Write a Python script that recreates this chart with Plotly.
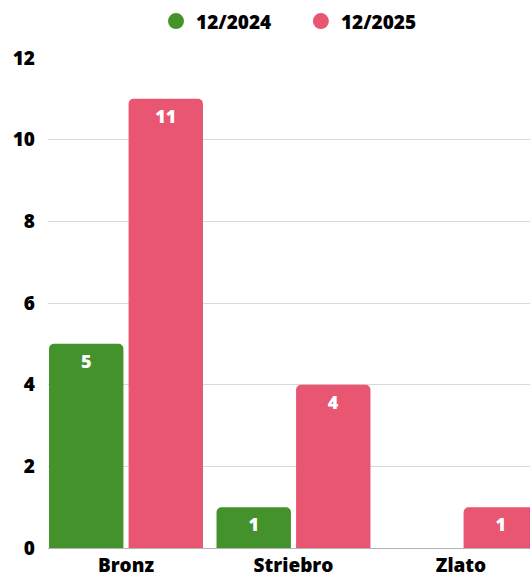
import plotly.graph_objects as go

categories = ["Bronz", "Striebro", "Zlato"]
series_names = ["12/2024", "12/2025"]
values_2024 = [5, 1, 0]
values_2025 = [11, 4, 1]
y_ticks = [0, 2, 4, 6, 8, 10, 12]

colors = ["#44922c", "#e85672"]
FONT = "Open Sans"
legend_pad = ["     ", ""]

fig = go.Figure()
for name, vals, col, pad in zip(series_names, [values_2024, values_2025], colors, legend_pad):
    fig.add_trace(go.Bar(
        x=categories, y=vals, name=name,
        marker=dict(color=col, cornerradius=5, line=dict(width=0)),
        text=[str(v) if v else "" for v in vals],
        textposition="inside", insidetextanchor="end",
        textfont=dict(family=FONT, size=18, color="white", weight=800),
        showlegend=False, hoverinfo="skip",
    ))
    fig.add_trace(go.Scatter(
        x=[None], y=[None], mode="markers", name=name + pad,
        marker=dict(symbol="circle", size=21, color=col),
        showlegend=True,
    ))

fig.update_layout(
    width=530, height=576,
    margin=dict(l=48, r=0, t=58, b=28),
    paper_bgcolor="white", plot_bgcolor="white",
    barmode="group", bargap=0.05, bargroupgap=0.065,
    uniformtext=dict(minsize=8, mode="show"),
    font=dict(family=FONT, size=19, color="black", weight=800),
    legend=dict(orientation="h", x=0.5, xanchor="center", y=1.075, yanchor="middle",
                font=dict(family=FONT, size=19, color="black", weight=800),
                itemsizing="trace", itemwidth=30, tracegroupgap=0),
    xaxis=dict(range=[-0.4657, 2.412], showgrid=False, showline=True, linecolor="#b3b3b3",
               linewidth=1, ticks="", automargin=False,
               tickfont=dict(family=FONT, size=19, weight=800)),
    yaxis=dict(range=[0, 12], tickvals=y_ticks, showgrid=True, gridcolor="#d9d9d9",
               gridwidth=1, zeroline=False, showline=False, ticks="", automargin=False,
               ticklabelstandoff=12,
               tickfont=dict(family=FONT, size=19, weight=800)),
)

fig.write_html("out.html")
